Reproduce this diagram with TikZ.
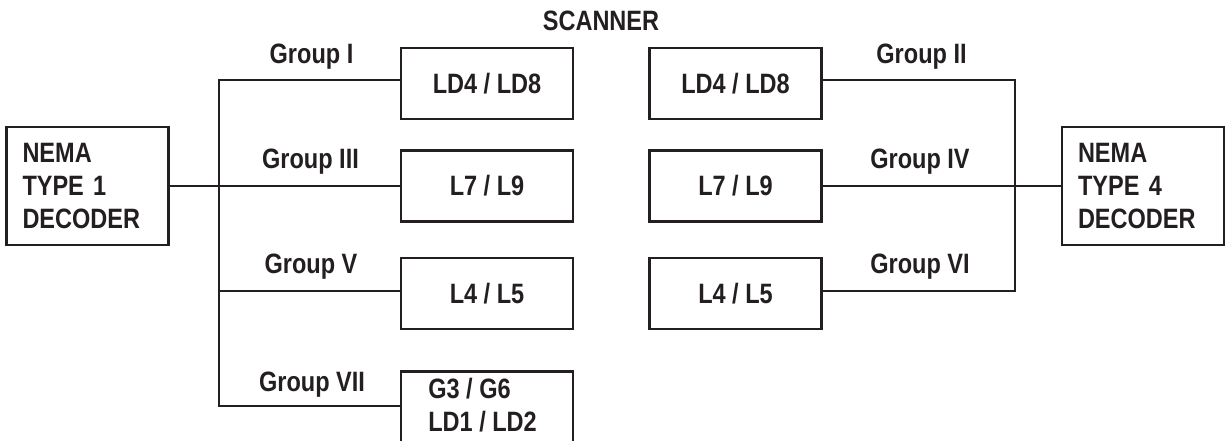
\documentclass[tikz,border=0pt]{standalone}
\usepackage{fontspec}
\setmainfont{Liberation Sans}[FakeStretch=0.84]
\definecolor{ink}{HTML}{231F20}
\begin{document}
\begin{tikzpicture}[x=1pt,y=-1pt, line width=2.6pt, draw=ink,
  every node/.style={font=\fontsize{28}{33}\selectfont\bfseries, text=ink},
  box/.style={draw=ink, minimum width=172pt, minimum height=71pt, inner sep=0pt},
  dec/.style={draw=ink, inner xsep=16pt, text width=130pt, minimum height=118pt, align=left},
  lbl/.style={anchor=base, inner sep=0pt}]
\useasboundingbox (0,0) rectangle (1225,440);
\clip (0,0) rectangle (1225,440);
% decoders
\node[dec] (d1) at (87.5,186) {NEMA\\TYPE 1\\DECODER};
\node[dec] (d4) at (1143,186) {NEMA\\TYPE 4\\DECODER};
% left scanner boxes
\node[box] (l1) at (487,83.5) {LD4 / LD8};
\node[box] (l3) at (487,186) {L7 / L9};
\node[box] (l5) at (487,293.5) {L4 / L5};
\node[box, anchor=north, minimum height=100pt] (l7) at (487,370) {};
\node[anchor=north west, align=left, inner sep=0pt] (l7t) at (427,377) {G3 / G6\\LD1 / LD2};
% right scanner boxes
\node[box] (r2) at (735.5,83.5) {LD4 / LD8};
\node[box] (r4) at (735.5,186) {L7 / L9};
\node[box] (r6) at (735.5,293.5) {L4 / L5};
% junctions
\coordinate (jl1) at (219,80);
\coordinate (jl5) at (219,291);
\coordinate (jl7) at (219,406);
\coordinate (jr2) at (1015,80);
\coordinate (jr6) at (1015,291);
% wires
\draw (d1.east) -- (l3.west);
\draw (l1.west |- jl1) -- (jl1) -- (jl7) -- (l7.west |- jl7);
\draw (jl5) -- (l5.west |- jl5);
\draw (r4.east) -- (d4.west);
\draw (r2.east |- jr2) -- (jr2) -- (jr6) -- (r6.east |- jr6);
% labels
\node[lbl] (sc) at (601,30) {SCANNER};
\node[lbl] (g1) at (311.5,63) {Group I};
\node[lbl] (g3) at (310.5,168) {Group III};
\node[lbl] (g5) at (311,273) {Group V};
\node[lbl] (g7) at (312,391) {Group VII};
\node[lbl] (g2) at (921.5,63) {Group II};
\node[lbl] (g4) at (920,168) {Group IV};
\node[lbl] (g6) at (920,273) {Group VI};
\end{tikzpicture}
\end{document}
